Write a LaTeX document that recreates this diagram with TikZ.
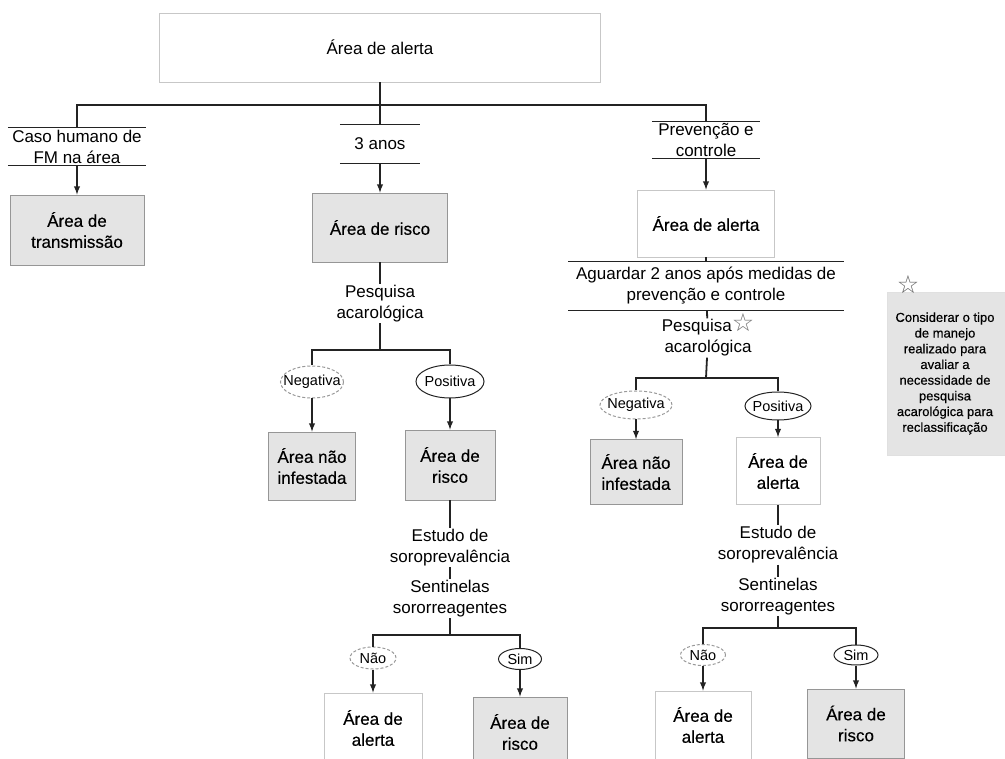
\documentclass[tikz,border=0pt]{standalone}
\usepackage{fontspec}
\setmainfont{Liberation Sans}
\newfontfamily\boxfont[FakeBold=0.4]{Liberation Sans}
\newfontfamily\starfont{DejaVu Sans}
\usepackage{tikz}
\usetikzlibrary{arrows,shapes.geometric,positioning}
\definecolor{boxgray}{RGB}{228,228,228}
\definecolor{rimgray}{RGB}{150,150,150}
\definecolor{inkgray}{RGB}{35,35,35}
\tikzstyle{block} = [rectangle, draw=rimgray, line width=0.8pt, fill=boxgray,
    text centered, inner sep=0pt, font=\boxfont\fontsize{17}{21}\selectfont]
\tikzstyle{plain} = [block, draw=black!22, fill=white]
\tikzstyle{bar} = [rectangle, text centered, inner sep=0pt, font=\fontsize{17}{21}\selectfont]
\tikzstyle{txt} = [text centered, inner sep=1pt, font=\fontsize{17}{21}\selectfont]
\tikzstyle{outyes} = [ellipse, draw=inkgray, line width=1pt, inner xsep=-15pt, inner ysep=0pt,
    font=\fontsize{14.5}{17}\selectfont]
\tikzstyle{outno} = [outyes, draw=black!40, densely dashed]
\tikzstyle{line} = [draw=inkgray, line width=1.8pt, -latex]
\tikzstyle{link} = [draw=inkgray, line width=1.8pt]
\tikzstyle{rule} = [draw=inkgray, line width=1.2pt]

\begin{document}
\begin{tikzpicture}[x=1pt, y=-1pt, align=center]
    \useasboundingbox (0,0) rectangle (1005,759);
    \clip (0,0) rectangle (1005,759);
    % Place nodes
    \node [plain, font=\fontsize{17}{21}\selectfont, minimum width=441pt, minimum height=69pt] (top) at (380,47.5) {Área de alerta};
    \coordinate (split) at (380,105);
    \node [bar, minimum width=138pt, minimum height=37pt] (human) at (77,146.5) {Caso humano de\\FM na área};
    \node [bar, minimum width=80pt, minimum height=38pt] (years) at (380,144) {3 anos};
    \node [bar, minimum width=108pt, minimum height=36pt] (prev) at (706,140) {Prevenção e\\controle};
    \node [block, minimum width=134pt, minimum height=70pt] (trans) at (77,230) {Área de\\transmissão};
    \node [block, minimum width=135pt, minimum height=69pt] (risk) at (380,227.5) {Área de risco};
    \node [plain, minimum width=137pt, minimum height=67pt] (alert) at (706,223.5) {Área de alerta};
    \node [bar, minimum width=275pt, minimum height=48pt] (wait) at (706,286) {Aguardar 2 anos após medidas de\\prevenção e controle};
    % middle branch
    \node [txt] (acaro) at (380,303.5) {Pesquisa\\acarológica};
    \coordinate (fork1) at (380,350);
    \node [outno, minimum width=63pt, minimum height=32pt] (neg1) at (312,382) {Negativa};
    \node [outyes, minimum width=68pt, minimum height=33pt] (pos1) at (450,381.5) {Positiva};
    \node [block, minimum width=87pt, minimum height=68pt] (free1) at (312,466) {Área não\\infestada};
    \node [block, minimum width=90pt, minimum height=70pt] (risk1) at (450,465) {Área de\\risco};
    \node [txt] (sero1) at (450,547.5) {Estudo de\\soroprevalência};
    \node [txt] (sent1) at (450,598.5) {Sentinelas\\sororreagentes};
    \coordinate (fork2) at (450,635);
    \node [outno, minimum width=46pt, minimum height=22pt] (nao1) at (373,658) {Não};
    \node [outyes, minimum width=43pt, minimum height=21pt] (sim1) at (520,659) {Sim};
    \node [plain, minimum width=98pt, minimum height=70pt] (alert1) at (373,728) {Área de\\alerta};
    \node [block, minimum width=94pt, minimum height=70pt] (risk2) at (520,732) {Área de\\risco};
    % right branch
    \node [txt] (acaro2) at (708,338) {Pesquisa\smash{\starfont\fontsize{25}{25}\selectfont\color{black!55}☆}\\acarológica};
    \coordinate (fork3) at (706,378);
    \node [outno, minimum width=72pt, minimum height=28pt] (neg2) at (636,405) {Negativa};
    \node [outyes, minimum width=66pt, minimum height=28pt] (pos2) at (778,406) {Positiva};
    \node [block, minimum width=92pt, minimum height=65pt] (free2) at (636,472) {Área não\\infestada};
    \node [plain, minimum width=84pt, minimum height=67pt] (alert3) at (778,471) {Área de\\alerta};
    \node [txt] (sero2) at (778,545) {Estudo de\\soroprevalência};
    \node [txt] (sent2) at (778,596.5) {Sentinelas\\sororreagentes};
    \coordinate (fork4) at (778,628);
    \node [outno, minimum width=45pt, minimum height=21pt] (nao2) at (703,655) {Não};
    \node [outyes, minimum width=44pt, minimum height=20pt] (sim2) at (856,655) {Sim};
    \node [plain, minimum width=96pt, minimum height=68pt] (alert4) at (703,725) {Área de\\alerta};
    \node [block, minimum width=97pt, minimum height=69pt] (risk4) at (856,723.5) {Área de\\risco};
    % side note
    \node [block, draw=black!12, minimum width=128pt, minimum height=163pt, font=\boxfont\fontsize{13}{15.7}\selectfont,
        label={[anchor=south west, xshift=10pt, yshift=-2pt, inner sep=0pt, text=black!60,
        font=\starfont\fontsize{25}{25}\selectfont]north west:☆}] (note) at (951,373.5)
        {\hspace*{-12pt}Considerar o tipo\\\hspace*{-12pt}de manejo\\\hspace*{-12pt}realizado para\\\hspace*{-12pt}avaliar a\\\hspace*{-12pt}necessidade de\\\hspace*{-12pt}pesquisa\\\hspace*{-12pt}acarológica para\\\hspace*{-12pt}reclassificação};
    % Draw edges
    \path [link] (top) -- (split);
    \path [link] (human.north) |- (split) -| (prev.north);
    \path [link] (split) -- (years.north);
    \path [rule] (human.north west) -- (human.north east) (human.south west) -- (human.south east);
    \path [rule] (years.north west) -- (years.north east) (years.south west) -- (years.south east);
    \path [rule] (prev.north west) -- (prev.north east) (prev.south west) -- (prev.south east);
    \path [rule] (wait.north west) -- (wait.north east) (wait.south west) -- (wait.south east);
    \path [line] (human) -- (trans);
    \path [line] (years) -- (risk);
    \path [line] (prev) -- (alert);
    \path [link] (risk) -- (acaro);
    \path [link] (acaro) -- (fork1);
    \path [link] (neg1.north) |- (fork1) -| (pos1.north);
    \path [line] (neg1) -- (free1);
    \path [line] (pos1) -- (risk1);
    \path [link] (risk1) -- (sero1);
    \path [link] (sero1) -- (sent1);
    \path [link] (sent1) -- (fork2);
    \path [link] (nao1.north) |- (fork2) -| (sim1.north);
    \path [line] (nao1) -- (alert1);
    \path [line] (sim1) -- (risk2);
    \path [link] (alert) -- (wait);
    \path [link] (wait) -- (acaro2);
    \path [link] (acaro2) -- (fork3);
    \path [link] (neg2.north) |- (fork3) -| (pos2.north);
    \path [line] (neg2) -- (free2);
    \path [line] (pos2) -- (alert3);
    \path [link] (alert3) -- (sero2);
    \path [link] (sero2) -- (sent2);
    \path [link] (sent2) -- (fork4);
    \path [link] (nao2.north) |- (fork4) -| (sim2.north);
    \path [line] (nao2) -- (alert4);
    \path [line] (sim2) -- (risk4);
\end{tikzpicture}
\end{document}
